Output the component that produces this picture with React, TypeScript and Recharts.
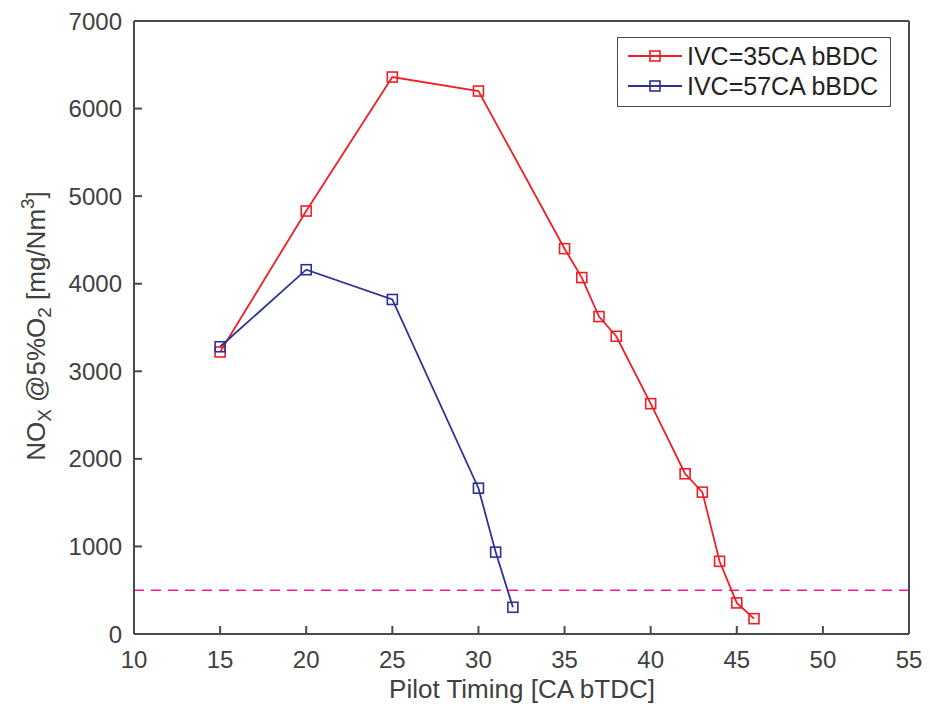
// NOx 배출 vs 파일럿 분사 시기 (Recharts LineChart).
// - 두 IVC 조건 시리즈, 사각 마커
// - 500 mg/Nm3 기준선 (점선)
// - MATLAB 스타일: 네 면 박스 + 안쪽 눈금 (커스텀 tick 으로 그림)

import { LineChart, Line, XAxis, YAxis, ReferenceLine, Legend } from 'recharts'

// 데이터 ---------------------------------------------------------------------
const IVC35_TIMING = [15, 20, 25, 30, 35, 36, 37, 38, 40, 42, 43, 44, 45, 46]
const IVC35_NOX = [3220, 4830, 6360, 6200, 4400, 4070, 3625, 3400, 2630, 1830, 1620, 830, 355, 175]

const IVC57_TIMING = [15, 20, 25, 30, 31, 32]
const IVC57_NOX = [3280, 4160, 3820, 1665, 935, 305]

const X_TICKS = [10, 15, 20, 25, 30, 35, 40, 45, 50, 55]
const Y_TICKS = [0, 1000, 2000, 3000, 4000, 5000, 6000, 7000]
const NOX_LIMIT = 500

const SERIES = [
  { name: 'IVC=35CA bBDC', color: '#ee1f26', x: IVC35_TIMING, y: IVC35_NOX },
  { name: 'IVC=57CA bBDC', color: '#2e3192', x: IVC57_TIMING, y: IVC57_NOX },
]

// 스타일 ---------------------------------------------------------------------
const FONT = '"Liberation Sans", Arial, Helvetica, sans-serif'
const AXIS = '#4a4a4a'
const TEXT = '#404040'
const LIMIT_COLOR = '#f5179c'
const TICK_LEN = 8
const TICK_W = 2
const X_GAP = 17 // 축선 → 라벨 위쪽
const Y_GAP = 12 // 축선 → 라벨 오른쪽 끝

const axisLine = { stroke: AXIS, strokeWidth: 2 }

// 안쪽 눈금 + 라벨 (음수 tickSize 는 recharts 3 에서 선을 안 그림)
function BottomTick({ x, y, payload }: any) {
  const y0 = y - X_GAP
  return (
    <g>
      <path d={`M${x},${y0}V${y0 - TICK_LEN}`} stroke={AXIS} strokeWidth={TICK_W} fill="none" />
      <text x={x} y={y} dy="0.71em" textAnchor="middle" fontFamily={FONT} fontSize={24} fill={TEXT}>
        {payload.value}
      </text>
    </g>
  )
}

function LeftTick({ x, y, payload }: any) {
  const x0 = x + Y_GAP
  return (
    <g>
      <path d={`M${x0},${y}H${x0 + TICK_LEN}`} stroke={AXIS} strokeWidth={TICK_W} fill="none" />
      <text x={x} y={y} dy="0.355em" textAnchor="end" fontFamily={FONT} fontSize={24} fill={TEXT}>
        {payload.value}
      </text>
    </g>
  )
}

function TopTick({ x, y }: any) {
  return <path d={`M${x},${y}V${y + TICK_LEN}`} stroke={AXIS} strokeWidth={TICK_W} fill="none" />
}

function RightTick({ x, y }: any) {
  return <path d={`M${x},${y}H${x - TICK_LEN}`} stroke={AXIS} strokeWidth={TICK_W} fill="none" />
}

// 열린 사각 마커
function SquareDot(props: any) {
  const { cx, cy, stroke } = props
  if (cx == null || cy == null) return null
  const s = 10
  return (
    <rect x={cx - s / 2} y={cy - s / 2} width={s} height={s} fill="none" stroke={stroke} strokeWidth={1.6} />
  )
}

function LegendBox() {
  return (
    <div
      style={{
        width: 272,
        height: 65,
        border: `1.5px solid ${AXIS}`,
        background: '#fff',
        fontFamily: FONT,
        fontSize: 25,
        color: '#222',
        paddingTop: 3,
        boxSizing: 'content-box',
      }}
    >
      {SERIES.map((s) => (
        <div key={s.name} style={{ display: 'flex', alignItems: 'center', height: 30 }}>
          <svg width={64} height={30} style={{ flex: 'none' }}>
            <line x1={10} x2={64} y1={15} y2={15} stroke={s.color} strokeWidth={1.8} />
            <rect x={32} y={10} width={10} height={10} fill="none" stroke={s.color} strokeWidth={1.6} />
          </svg>
          <span style={{ marginLeft: 5, whiteSpace: 'nowrap', lineHeight: '30px' }}>{s.name}</span>
        </div>
      ))}
    </div>
  )
}

// 세로축 제목 (아래첨자/위첨자 포함)
function YTitle() {
  const cx = 45
  const cy = 326
  return (
    <text x={cx} y={cy} transform={`rotate(-90 ${cx} ${cy})`} textAnchor="middle" fontFamily={FONT} fontSize={26} fill={TEXT}>
      <tspan>NO</tspan>
      <tspan fontSize={19} dy={6}>X</tspan>
      <tspan dy={-6}> @5%O</tspan>
      <tspan fontSize={19} dy={6}>2</tspan>
      <tspan dy={-6}> [mg/Nm</tspan>
      <tspan fontSize={19} dy={-11}>3</tspan>
      <tspan dy={11}>]</tspan>
    </text>
  )
}

export default function App() {
  return (
    <div style={{ position: 'absolute', left: 0, top: 0, width: 930, height: 708, background: '#fff' }}>
      <LineChart width={930} height={708} margin={{ top: 20, right: 20, bottom: 34, left: 74 }}>
        <XAxis
          type="number"
          dataKey="x"
          domain={[10, 55]}
          ticks={X_TICKS}
          height={40}
          axisLine={axisLine}
          tickLine={false}
          tickSize={0}
          tickMargin={X_GAP}
          tick={<BottomTick />}
          allowDuplicatedCategory={false}
          label={{
            content: () => (
              <text x={522} y={698} textAnchor="middle" fontFamily={FONT} fontSize={26} fill={TEXT}>
                Pilot Timing [CA bTDC]
              </text>
            ),
          }}
        />
        <XAxis xAxisId="top" orientation="top" type="number" domain={[10, 55]} ticks={X_TICKS} height={1}
          axisLine={axisLine} tickLine={false} tickSize={0} tickMargin={0} tick={<TopTick />} />
        <YAxis
          type="number"
          domain={[0, 7000]}
          ticks={Y_TICKS}
          width={60}
          axisLine={axisLine}
          tickLine={false}
          tickSize={0}
          tickMargin={Y_GAP}
          tick={<LeftTick />}
          label={{ content: () => <YTitle /> }}
        />
        <YAxis yAxisId="right" orientation="right" type="number" domain={[0, 7000]} ticks={Y_TICKS} width={1}
          axisLine={axisLine} tickLine={false} tickSize={0} tickMargin={0} tick={<RightTick />} />
        <ReferenceLine y={NOX_LIMIT} stroke={LIMIT_COLOR} strokeWidth={1.5} strokeDasharray="10 7" />
        {SERIES.map((s) => (
          <Line
            key={s.name}
            name={s.name}
            data={s.x.map((x, i) => ({ x, y: s.y[i] }))}
            dataKey="y"
            type="linear"
            stroke={s.color}
            strokeWidth={1.8}
            dot={<SquareDot />}
            activeDot={false}
            isAnimationActive={false}
          />
        ))}
        <Legend
          layout="vertical"
          align="center"
          verticalAlign="middle"
          wrapperStyle={{ top: 37, left: 617, width: 'auto' }}
          content={() => <LegendBox />}
        />
      </LineChart>
    </div>
  )
}
